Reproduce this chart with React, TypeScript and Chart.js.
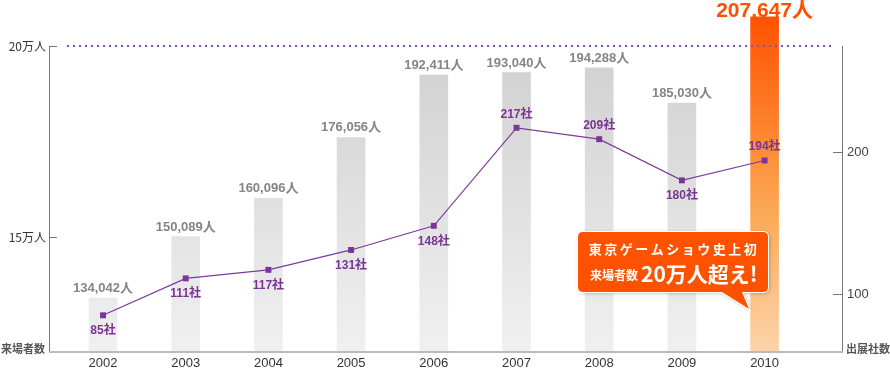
import React, { useEffect, useRef } from 'react';
import { Chart, registerables } from 'chart.js';

Chart.register(...registerables);

const years = ['2002', '2003', '2004', '2005', '2006', '2007', '2008', '2009', '2010'];
const visitors = [134042, 150089, 160096, 176056, 192411, 193040, 194288, 185030, 207647];
const exhibitors = [85, 111, 117, 131, 148, 217, 209, 180, 194];
const exhibitorLabelPos = ['below', 'below', 'below', 'below', 'below', 'above', 'above', 'below', 'above'];
const visitorTicks = [150000, 200000];
const visitorTickLabels = ['15万人', '20万人'];
const exhibitorTicks = [100, 200];
const exhibitorTickLabels = ['100', '200'];
const leftAxisTitle = '来場者数';
const rightAxisTitle = '出展社数';
const highlightIndex = 8;
const calloutLine1 = '東京ゲームショウ史上初';
const calloutLine2a = '来場者数';
const calloutLine2b = '20万人超え!';

const FONT = "'Liberation Sans', Arial, 'Noto Sans CJK JP', sans-serif";
const JFONT = "'Noto Sans CJK JP', 'Liberation Sans', sans-serif";

const decorPlugin = {
  id: 'decor',
  beforeDatasetsDraw(chart: any) {
    const { ctx, chartArea: ca, scales } = chart;
    const yV = scales.yV, yE = scales.yE;
    ctx.save();
    // vertical axes
    ctx.strokeStyle = '#777';
    ctx.lineWidth = 1;
    ctx.beginPath();
    ctx.moveTo(ca.left + 0.5, ca.top);
    ctx.lineTo(ca.left + 0.5, ca.bottom);
    ctx.moveTo(ca.right + 0.5, ca.top);
    ctx.lineTo(ca.right + 0.5, ca.bottom);
    ctx.stroke();
    // ticks
    ctx.beginPath();
    visitorTicks.forEach((v) => {
      const py = Math.round(yV.getPixelForValue(v)) + 0.5;
      ctx.moveTo(ca.left, py);
      ctx.lineTo(ca.left + 8, py);
    });
    exhibitorTicks.forEach((v) => {
      const py = Math.round(yE.getPixelForValue(v)) + 0.5;
      ctx.moveTo(ca.right - 9, py);
      ctx.lineTo(ca.right, py);
    });
    ctx.stroke();
    // tick labels
    ctx.fillStyle = '#333';
    ctx.font = `12px ${JFONT}`;
    ctx.textAlign = 'right';
    ctx.textBaseline = 'middle';
    visitorTicks.forEach((v, i) => {
      ctx.fillText(visitorTickLabels[i], ca.left - 3, yV.getPixelForValue(v));
    });
    ctx.fillStyle = '#444';
    ctx.font = `13px ${FONT}`;
    ctx.textAlign = 'left';
    exhibitorTicks.forEach((v, i) => {
      ctx.fillText(exhibitorTickLabels[i], ca.right + 5, yE.getPixelForValue(v));
    });
    // axis titles
    ctx.fillStyle = '#555';
    ctx.font = `bold 11px ${JFONT}`;
    ctx.textAlign = 'right';
    ctx.fillText(leftAxisTitle, ca.left - 4, ca.bottom - 3);
    ctx.textAlign = 'left';
    ctx.fillText(rightAxisTitle, ca.right + 4, ca.bottom - 3);
    ctx.restore();
  },
  afterDatasetsDraw(chart: any) {
    const { ctx, chartArea: ca, scales } = chart;
    const yV = scales.yV;
    ctx.save();
    // bottom axis
    ctx.strokeStyle = '#bbb';
    ctx.lineWidth = 2;
    ctx.beginPath();
    ctx.moveTo(ca.left, ca.bottom);
    ctx.lineTo(ca.right + 1, ca.bottom);
    ctx.stroke();
    // dotted 20万 line
    const py = Math.round(yV.getPixelForValue(200000));
    ctx.fillStyle = '#8a4db0';
    for (let px = ca.left + 18; px < ca.right - 12; px += 6) {
      ctx.fillRect(px, py - 1, 2, 2);
    }
    // bar value labels
    const barMeta = chart.getDatasetMeta(0);
    barMeta.data.forEach((el: any, i: number) => {
      const txt = visitors[i].toLocaleString('en-US') + '人';
      ctx.textAlign = 'center';
      ctx.textBaseline = 'alphabetic';
      if (i === highlightIndex) {
        ctx.fillStyle = '#ff5000';
        ctx.font = `bold 21px ${FONT}`;
        ctx.fillText(txt, el.x, Math.max(el.y - 3, 17));
      } else {
        ctx.fillStyle = '#858585';
        ctx.font = `bold 13px ${FONT}`;
        ctx.fillText(txt, el.x, el.y - 6);
      }
    });
    // line labels
    const lineMeta = chart.getDatasetMeta(1);
    lineMeta.data.forEach((el: any, i: number) => {
      ctx.fillStyle = '#7a3592';
      ctx.font = `bold 12px ${FONT}`;
      ctx.textAlign = 'center';
      ctx.textBaseline = 'alphabetic';
      const by = exhibitorLabelPos[i] === 'above' ? el.y - 10 : el.y + 19;
      ctx.fillText(exhibitors[i] + '社', el.x, by);
    });
    ctx.restore();
  },
  afterDraw(chart: any) {
    const { ctx, chartArea: ca, scales } = chart;
    const x = scales.x;
    ctx.save();
    // x labels
    ctx.fillStyle = '#333';
    ctx.font = `13px ${FONT}`;
    ctx.textAlign = 'center';
    ctx.textBaseline = 'middle';
    years.forEach((yr, i) => {
      ctx.fillText(yr, x.getPixelForValue(i), ca.bottom + 11);
    });
    // callout
    const L = 578, T = 232, R = 768, B = 292, r = 5;
    const path = () => {
      ctx.beginPath();
      ctx.moveTo(L + r, T);
      ctx.lineTo(R - r, T);
      ctx.quadraticCurveTo(R, T, R, T + r);
      ctx.lineTo(R, B - r);
      ctx.quadraticCurveTo(R, B, R - r, B);
      ctx.lineTo(742, B);
      ctx.lineTo(749, 309);
      ctx.lineTo(722, B);
      ctx.lineTo(L + r, B);
      ctx.quadraticCurveTo(L, B, L, B - r);
      ctx.lineTo(L, T + r);
      ctx.quadraticCurveTo(L, T, L + r, T);
      ctx.closePath();
    };
    ctx.shadowColor = 'rgba(0,0,0,0.3)';
    ctx.shadowBlur = 4;
    ctx.shadowOffsetX = 1;
    ctx.shadowOffsetY = 1;
    path();
    ctx.fillStyle = '#ffffff';
    ctx.fill();
    ctx.shadowColor = 'transparent';
    ctx.lineWidth = 2;
    ctx.strokeStyle = '#ffffff';
    ctx.stroke();
    ctx.fillStyle = '#ff5200';
    ctx.fill();
    ctx.fillStyle = '#ffffff';
    ctx.textBaseline = 'alphabetic';
    ctx.textAlign = 'center';
    ctx.font = `bold 13px ${JFONT}`;
    try { (ctx as any).letterSpacing = '2.5px'; } catch (e) {}
    ctx.fillText(calloutLine1, 674, 254);
    try { (ctx as any).letterSpacing = '0px'; } catch (e) {}
    ctx.textAlign = 'left';
    ctx.font = `bold 12px ${JFONT}`;
    ctx.fillText(calloutLine2a, 590, 280);
    ctx.font = `bold 21px ${JFONT}`;
    ctx.fillText(calloutLine2b, 641, 282);
    ctx.restore();
  },
};

export default function App() {
  const ref = useRef<HTMLCanvasElement | null>(null);
  useEffect(() => {
    if (!ref.current) return;
    const chart = new Chart(ref.current, {
      type: 'bar',
      data: {
        datasets: [
          {
            type: 'bar',
            label: '来場者数',
            data: visitors.map((v, i) => ({ x: i, y: v })),
            xAxisID: 'x',
            yAxisID: 'yV',
            barThickness: 28,
            borderWidth: 0,
            clip: { left: 10, top: 40, right: 10, bottom: 0 },
            order: 1,
            backgroundColor: (c: any) => {
              const ch = c.chart;
              const ca = ch.chartArea;
              if (!ca) return '#ddd';
              if (c.dataIndex === highlightIndex) {
                const g = ch.ctx.createLinearGradient(0, 16, 0, ca.bottom);
                g.addColorStop(0, '#ff5200');
                g.addColorStop(0.35, '#ff8530');
                g.addColorStop(0.6, '#fbab58');
                g.addColorStop(1, '#fdd3aa');
                return g;
              }
              const g = ch.ctx.createLinearGradient(0, ca.top, 0, ca.bottom);
              g.addColorStop(0, '#d0d0d0');
              g.addColorStop(1, '#f0f0f0');
              return g;
            },
          } as any,
          {
            type: 'line',
            label: '出展社数',
            data: exhibitors.map((v, i) => ({ x: i, y: v })),
            xAxisID: 'x',
            yAxisID: 'yE',
            borderColor: '#7d3a9e',
            borderWidth: 1.2,
            pointStyle: 'rect',
            pointRadius: 4.2,
            pointBackgroundColor: '#7b3598',
            pointBorderWidth: 0,
            tension: 0,
            clip: false,
            order: 0,
          } as any,
        ],
      },
      options: {
        animation: false,
        responsive: false,
        layout: { padding: { left: 49, right: 48, top: 46, bottom: 17 } },
        plugins: { legend: { display: false }, tooltip: { enabled: false } },
        scales: {
          x: { type: 'linear', display: false, offset: false, min: -0.653, max: 8.936 },
          yV: { type: 'linear', display: false, position: 'left', min: 119895, max: 200000 },
          yE: { type: 'linear', display: false, position: 'right', min: 59.15, max: 274.6 },
        },
      } as any,
      plugins: [decorPlugin],
    });
    return () => chart.destroy();
  }, []);
  return (
    <div style={{ position: 'absolute', left: 0, top: 0, width: 890, height: 369, background: '#fff' }}>
      <canvas ref={ref} width={890} height={369} style={{ display: 'block' }} />
    </div>
  );
}
